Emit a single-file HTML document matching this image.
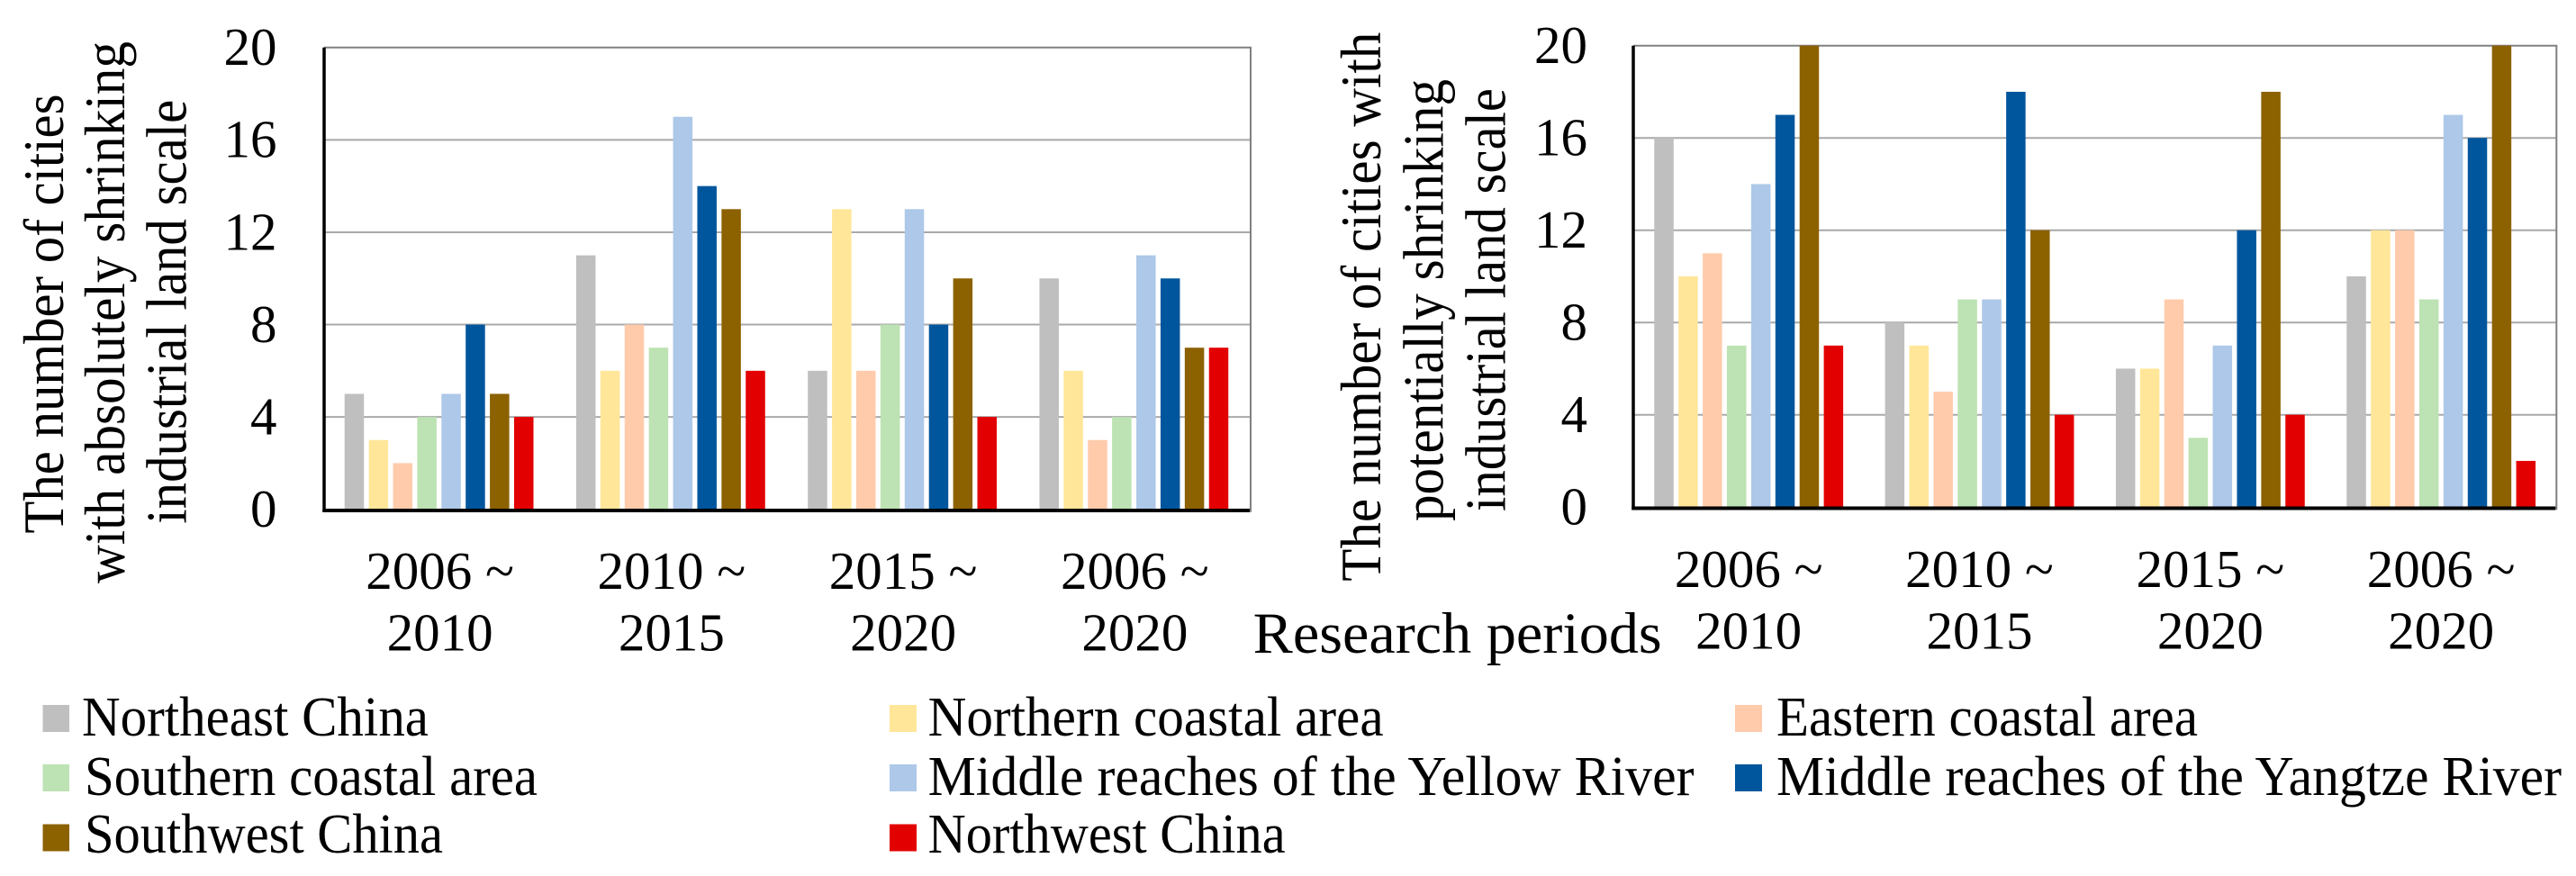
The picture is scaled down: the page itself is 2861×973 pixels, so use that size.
<!DOCTYPE html>
<html lang="en">
<head>
<meta charset="utf-8">
<title>Shrinking industrial land scale by region</title>
<style>
  html, body { margin: 0; padding: 0; background: #ffffff; }
  svg { display: block; }
  text { font-family: "Liberation Serif", "Times New Roman", serif; fill: #000000; }
  .tick { font-size: 59px; }
  .axis-title { font-size: 64px; }
  .legend-text { font-size: 62px; }
  .s0 { fill: #bfbfbf; }
  .s1 { fill: #ffe699; }
  .s2 { fill: #ffcbab; }
  .s3 { fill: #bde2b3; }
  .s4 { fill: #adc8e8; }
  .s5 { fill: #00569d; }
  .s6 { fill: #8c6100; }
  .s7 { fill: #e30000; }
</style>
</head>
<body>
<svg id="figure" xmlns="http://www.w3.org/2000/svg" width="2861" height="973" viewBox="0 0 2861 973">
  <g id="left-chart"></g>
  <g id="right-chart"></g>

  <g>
    <text class="axis-title" transform="translate(70,592.5) rotate(-90)" textLength="488" lengthAdjust="spacingAndGlyphs">The number of cities</text>
    <text class="axis-title" transform="translate(138,648) rotate(-90)" textLength="602" lengthAdjust="spacingAndGlyphs">with absolutely shrinking</text>
    <text class="axis-title" transform="translate(206.7,581.7) rotate(-90)" textLength="471" lengthAdjust="spacingAndGlyphs">industrial land scale</text>
  </g>
  <g>
    <text class="axis-title" transform="translate(1533,645.7) rotate(-90)" textLength="610" lengthAdjust="spacingAndGlyphs">The number of cities with</text>
    <text class="axis-title" transform="translate(1602.7,579) rotate(-90)" textLength="491" lengthAdjust="spacingAndGlyphs">potentially shrinking</text>
    <text class="axis-title" transform="translate(1671.7,568) rotate(-90)" textLength="470" lengthAdjust="spacingAndGlyphs">industrial land scale</text>
  </g>

  <text x="1391.7" y="725" style="font-size:65px" textLength="454" lengthAdjust="spacingAndGlyphs">Research periods</text>

  <g>
    <g>
      <rect class="s0" x="47.5" y="783" width="29.5" height="30"/>
      <text class="legend-text" x="91" y="817" textLength="385" lengthAdjust="spacingAndGlyphs">Northeast China</text>
    </g>
    <g>
      <rect class="s1" x="988" y="783" width="30" height="30"/>
      <text class="legend-text" x="1030.6" y="817" textLength="506" lengthAdjust="spacingAndGlyphs">Northern coastal area</text>
    </g>
    <g>
      <rect class="s2" x="1927" y="783" width="30" height="30"/>
      <text class="legend-text" x="1973" y="817" textLength="468" lengthAdjust="spacingAndGlyphs">Eastern coastal area</text>
    </g>
    <g>
      <rect class="s3" x="47.5" y="849" width="29.5" height="30"/>
      <text class="legend-text" x="94" y="883" textLength="503" lengthAdjust="spacingAndGlyphs">Southern coastal area</text>
    </g>
    <g>
      <rect class="s4" x="988" y="849" width="30" height="30"/>
      <text class="legend-text" x="1030.6" y="883" textLength="851" lengthAdjust="spacingAndGlyphs">Middle reaches of the Yellow River</text>
    </g>
    <g>
      <rect class="s5" x="1927" y="849" width="30" height="30"/>
      <text class="legend-text" x="1973" y="883" textLength="872" lengthAdjust="spacingAndGlyphs">Middle reaches of the Yangtze River</text>
    </g>
    <g>
      <rect class="s6" x="47.5" y="915.5" width="29.5" height="30"/>
      <text class="legend-text" x="94" y="947" textLength="398" lengthAdjust="spacingAndGlyphs">Southwest China</text>
    </g>
    <g>
      <rect class="s7" x="988" y="915.5" width="30" height="30"/>
      <text class="legend-text" x="1030.6" y="947" textLength="397" lengthAdjust="spacingAndGlyphs">Northwest China</text>
    </g>
  </g>
</svg>

<script>
// Category labels and value-axis ticks
const periodStarts = ['2006 ~', '2010 ~', '2015 ~', '2006 ~'];
const periodEnds = ['2010', '2015', '2020', '2020'];
const yTicks = [0, 4, 8, 12, 16, 20];
const seriesKeys = ['northeast-china', 'northern-coastal', 'eastern-coastal', 'southern-coastal', 'yellow-river', 'yangtze-river', 'southwest-china', 'northwest-china'];

// Number of cities with absolutely shrinking industrial land scale
const absNortheast = [5, 11, 6, 10];
const absNorthern = [3, 6, 13, 6];
const absEastern = [2, 8, 6, 3];
const absSouthern = [4, 7, 8, 4];
const absYellow = [5, 17, 13, 11];
const absYangtze = [8, 14, 8, 10];
const absSouthwest = [5, 13, 10, 7];
const absNorthwest = [4, 6, 4, 7];

// Number of cities with potentially shrinking industrial land scale
const potNortheast = [16, 8, 6, 10];
const potNorthern = [10, 7, 6, 12];
const potEastern = [11, 5, 9, 12];
const potSouthern = [7, 9, 3, 9];
const potYellow = [14, 9, 7, 17];
const potYangtze = [17, 18, 12, 16];
const potSouthwest = [20, 12, 18, 20];
const potNorthwest = [7, 4, 4, 2];

const absSeries = [absNortheast, absNorthern, absEastern, absSouthern, absYellow, absYangtze, absSouthwest, absNorthwest];
const potSeries = [potNortheast, potNorthern, potEastern, potSouthern, potYellow, potYangtze, potSouthwest, potNorthwest];

const SVG_NS = 'http://www.w3.org/2000/svg';

function svgEl(parent, tag, attrs) {
  const el = document.createElementNS(SVG_NS, tag);
  Object.keys(attrs).forEach(function (k) { el.setAttribute(k, attrs[k]); });
  parent.appendChild(el);
  return el;
}

function drawChart(root, prefix, series, box) {
  const yMax = yTicks[yTicks.length - 1];
  const yScale = function (v) { return box.bottom - (v / yMax) * (box.bottom - box.top); };
  const band = (box.right - box.left) / periodStarts.length;
  const bandCenter = function (i) { return box.left + band * (i + 0.5); };
  const barX = function (i, j) { return box.left + band * i + box.barOffset + j * 26.9; };
  const barWidth = 21.5;

  // Gridlines and frame
  yTicks.forEach(function (t) {
    if (t === 0 || t === yMax) return;
    const grid = svgEl(root, 'line', { x1: box.left, x2: box.right, y1: yScale(t), y2: yScale(t), stroke: '#a9a9a9', 'stroke-width': 2 });
    
    
  });
  const frameTop = svgEl(root, 'line', { x1: box.left, x2: box.right + 1, y1: box.top, y2: box.top, stroke: '#808080', 'stroke-width': 2 });
  
  
  const frameRight = svgEl(root, 'line', { x1: box.right, x2: box.right, y1: box.top, y2: box.bottom + 3, stroke: '#808080', 'stroke-width': 2 });
  
  

  // Bars
  series.forEach(function (values, j) {
    values.forEach(function (v, i) {
      const bar = svgEl(root, 'rect', { class: 's' + j, x: barX(i, j), y: yScale(v), width: barWidth, height: yScale(0) - yScale(v) });
      
      
    });
  });

  // Axis lines
  const yAxis = svgEl(root, 'line', { x1: box.left, x2: box.left, y1: box.top, y2: box.bottom + 3, stroke: '#000000', 'stroke-width': 3.5 });
  
  
  const xAxis = svgEl(root, 'line', { x1: box.left - 1.7, x2: box.right - 1, y1: box.bottom + 1.3, y2: box.bottom + 1.3, stroke: '#000000', 'stroke-width': 4 });
  
  

  // Y tick labels
  yTicks.forEach(function (t) {
    const label = svgEl(root, 'text', { class: 'tick', x: box.tickRight, y: yScale(t) + 19.3, 'text-anchor': 'end' });
    label.textContent = String(t);
    
    
  });

  // X category labels (two lines each)
  periodStarts.forEach(function (start, i) {
    const first = svgEl(root, 'text', { class: 'tick', x: bandCenter(i), y: box.xLine1, 'text-anchor': 'middle' });
    first.textContent = start;
    
    
    const second = svgEl(root, 'text', { class: 'tick', x: bandCenter(i), y: box.xLine2, 'text-anchor': 'middle' });
    second.textContent = periodEnds[i];
    
    
  });
}

drawChart(document.getElementById('left-chart'), 'left', absSeries, {
  left: 360, right: 1389, top: 52.8, bottom: 565.7, barOffset: 22.7, tickRight: 307.5, xLine1: 654, xLine2: 722.5
});
drawChart(document.getElementById('right-chart'), 'right', potSeries, {
  left: 1814, right: 2839.3, top: 50.7, bottom: 563.2, barOffset: 23.3, tickRight: 1763, xLine1: 652, xLine2: 720.5
});
</script>
</body>
</html>
